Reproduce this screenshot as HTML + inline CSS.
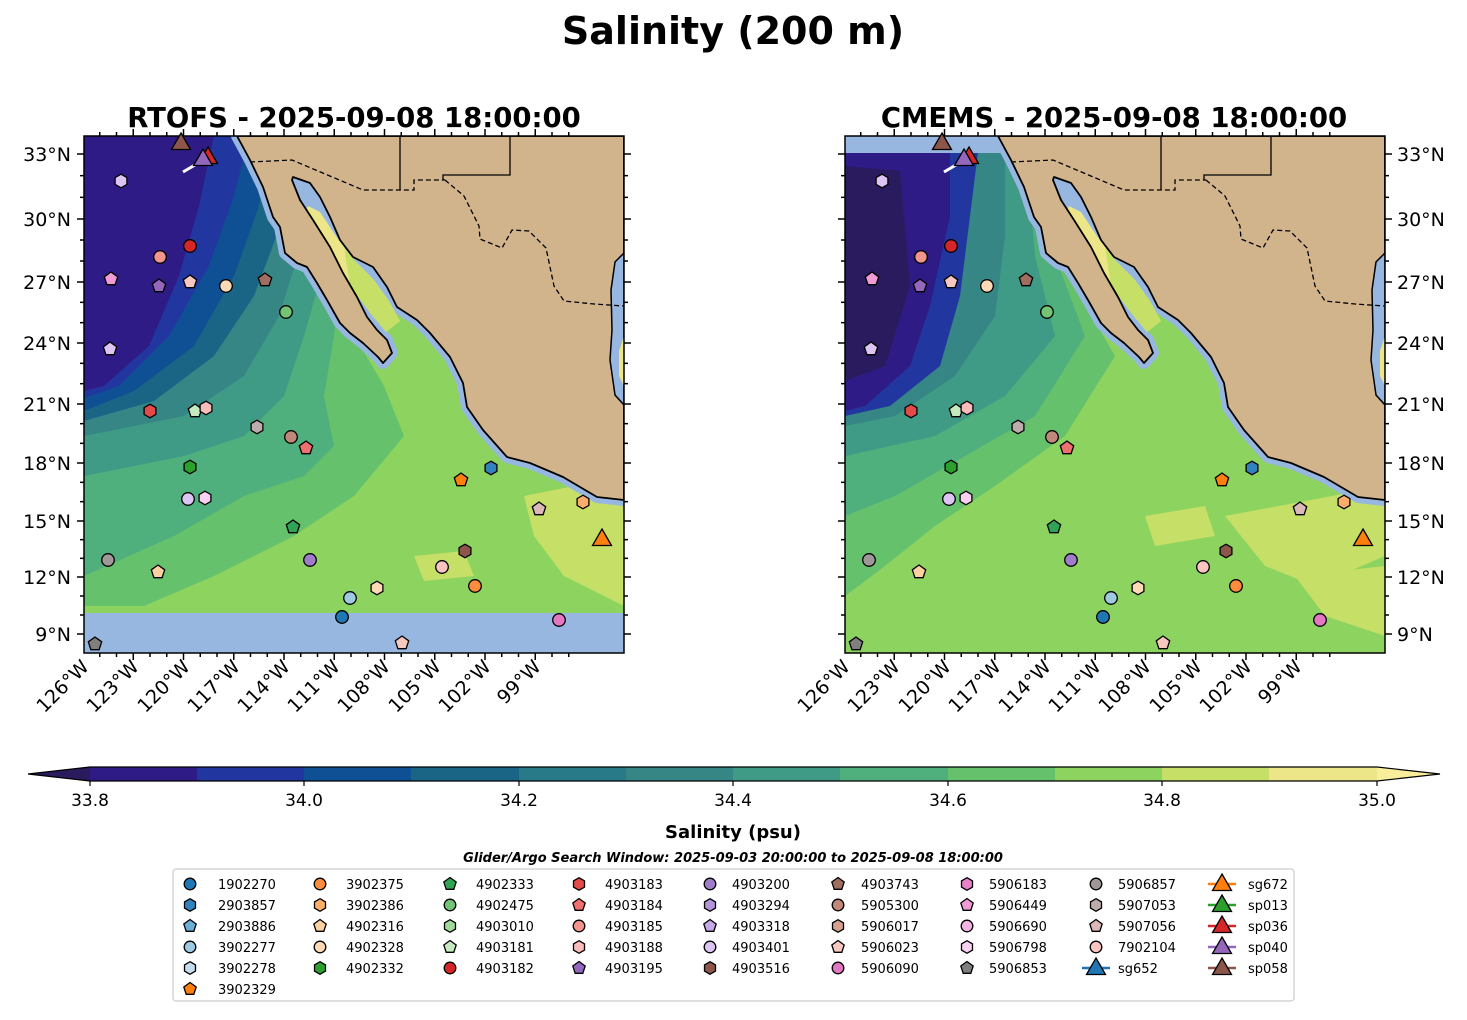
<!DOCTYPE html>
<html><head><meta charset="utf-8"><style>
body{margin:0;background:#fff;}
svg text{font-family:"DejaVu Sans","Liberation Sans",sans-serif;}
</style></head><body>
<svg id="s" width="1467" height="1015" viewBox="0 0 1467 1015" xmlns="http://www.w3.org/2000/svg">
<defs>
<clipPath id="mc"><rect x="0" y="0" width="540" height="517"/></clipPath>
<g id="coast">
<polygon points="153,0 166,24 179,51 189,81 196,91 201,117 213,127 223,131 233,147 243,164 256,187 266,197 279,207 294,221 299,227 308,217 303,204 293,194 283,181 273,161 259,137 246,111 229,84 216,64 208,44 209,41 226,47 236,61 246,81 256,104 269,121 289,131 303,151 313,171 333,184 346,197 366,221 379,247 383,271 399,294 423,321 446,327 479,341 513,361 540,364 540,0" fill="none" stroke="#98b7e0" stroke-width="12" stroke-linejoin="round"/>
<polygon points="209,41 226,47 236,61 246,81 256,104 269,121 289,131 303,151 313,171 300,195 290,180 275,160 260,135 245,110 228,85 215,62" fill="#98b7e0"/>
<polygon points="224,70 236,76 252,100 270,124 290,144 305,165 316,185 302,196 287,178 266,150 246,120 230,95 220,78" fill="#ece689"/>
<polygon points="260,110 270,124 290,144 305,165 316,185 302,196 287,178 266,150" fill="#c5df67"/>
<polygon points="153,0 166,24 179,51 189,81 196,91 201,117 213,127 223,131 233,147 243,164 256,187 266,197 279,207 294,221 299,227 308,217 303,204 293,194 283,181 273,161 259,137 246,111 229,84 216,64 208,44 209,41 226,47 236,61 246,81 256,104 269,121 289,131 303,151 313,171 333,184 346,197 366,221 379,247 383,271 399,294 423,321 446,327 479,341 513,361 540,364 540,0" fill="#d2b48c" stroke="#000" stroke-width="1.8" stroke-linejoin="round"/>
<polygon points="540,117 531,126 527,154 528,194 526,224 531,259 540,269" fill="#98b7e0" stroke="#000" stroke-width="1.5"/>
<polygon points="540,200 535,215 535,240 540,250" fill="#ece689"/>
<polyline points="166,26 208,24 279,54 330,54 330,44 361,44" fill="none" stroke="#000" stroke-width="1.3" stroke-dasharray="5,3"/>
<polyline points="316,0 316,54" fill="none" stroke="#000" stroke-width="1.3"/>
<polyline points="359,44 359,39 426,39 426,0" fill="none" stroke="#000" stroke-width="1.3"/>
<polyline points="361,44 380,60 395,90 396,103 418,112 428,94 445,95 462,112 470,150 480,165 510,168 540,170" fill="none" stroke="#000" stroke-width="1.3" stroke-dasharray="5,3"/>
</g>
</defs>

<text x="733" y="44" font-size="38" font-weight="bold" text-anchor="middle">Salinity (200 m)</text>
<text x="354" y="127" font-size="27.5" font-weight="bold" text-anchor="middle">RTOFS - 2025-09-08 18:00:00</text>
<text x="1114" y="127" font-size="27.5" font-weight="bold" text-anchor="middle">CMEMS - 2025-09-08 18:00:00</text>

<!-- LEFT MAP -->
<g transform="translate(84,136)">
<g clip-path="url(#mc)">
<rect width="540" height="517" fill="#8dd35f"/>
<polygon points="440,360 540,340 540,470 480,440 450,400" fill="#c5df67"/>
<polygon points="330,420 380,415 390,440 340,445" fill="#c5df67"/>
<polygon points="0,0 260,0 265,190 300,250 320,300 270,360 210,400 130,440 60,470 0,470" fill="#66c16d"/>
<polygon points="0,0 245,0 255,150 250,200 240,260 250,310 220,340 160,360 90,400 0,440" fill="#4fb07d"/>
<polygon points="0,0 230,0 240,130 220,200 200,260 160,300 100,320 0,340" fill="#3f9a86"/>
<polygon points="0,0 215,0 220,100 195,180 160,240 100,280 0,300" fill="#358685"/>
<polygon points="0,0 200,0 200,80 170,160 130,220 70,265 0,285" fill="#1a6586"/>
<polygon points="0,0 185,0 175,70 150,140 110,210 50,255 0,275" fill="#0e5093"/>
<polygon points="0,0 165,0 150,60 125,130 85,200 35,250 0,262" fill="#2236a0"/>
<polygon points="0,0 130,0 115,70 95,140 65,210 20,250 0,255" fill="#2f1b85"/>
<rect y="477" width="540" height="40" fill="#98b7e0"/>
<use href="#coast"/>
</g>
<rect width="540" height="517" fill="none" stroke="#000" stroke-width="1.5"/>
</g>

<!-- RIGHT MAP -->
<g transform="translate(845,136)">
<g clip-path="url(#mc)">
<rect width="540" height="517" fill="#8dd35f"/>
<polygon points="380,380 540,350 540,420 470,450 420,430" fill="#c5df67"/>
<polygon points="450,440 540,430 540,500 480,480" fill="#c5df67"/>
<polygon points="300,380 360,370 370,400 310,410" fill="#c5df67"/>
<polygon points="0,0 210,0 230,150 270,220 220,300 150,350 90,390 40,430 0,460" fill="#66c16d"/>
<polygon points="0,0 195,0 210,120 240,200 190,280 120,320 50,360 0,380" fill="#4fb07d"/>
<polygon points="0,0 180,0 190,120 210,200 160,260 90,300 0,320" fill="#3f9a86"/>
<polygon points="0,0 160,0 160,100 150,180 110,240 50,280 0,290" fill="#358685"/>
<polygon points="0,0 135,0 125,80 115,160 95,230 45,270 0,280" fill="#2236a0"/>
<polygon points="0,0 105,0 105,80 85,170 65,230 20,270 0,275" fill="#2f1b85"/>
<polygon points="0,30 55,35 65,150 40,230 0,245" fill="#2a1a5e"/>
<rect width="540" height="17" fill="#98b7e0"/>
<use href="#coast"/>
</g>
<rect width="540" height="517" fill="none" stroke="#000" stroke-width="1.5"/>
</g>

<g id="ticks" stroke="#000" stroke-width="1.5"></g>
<g id="mk"></g>

<!-- lat labels -->
<g font-size="19">
<g text-anchor="end">
<text x="71" y="161">33°N</text><text x="71" y="226">30°N</text><text x="71" y="289">27°N</text><text x="71" y="350">24°N</text><text x="71" y="411">21°N</text><text x="71" y="470">18°N</text><text x="71" y="528">15°N</text><text x="71" y="584">12°N</text><text x="71" y="641">9°N</text>
</g>
<g text-anchor="start">
<text x="1397" y="161">33°N</text><text x="1397" y="226">30°N</text><text x="1397" y="289">27°N</text><text x="1397" y="350">24°N</text><text x="1397" y="411">21°N</text><text x="1397" y="470">18°N</text><text x="1397" y="528">15°N</text><text x="1397" y="584">12°N</text><text x="1397" y="641">9°N</text>
</g>
<g text-anchor="end">
<text transform="translate(90,668) rotate(-45)">126°W</text>
<text transform="translate(140,668) rotate(-45)">123°W</text>
<text transform="translate(191,668) rotate(-45)">120°W</text>
<text transform="translate(241,668) rotate(-45)">117°W</text>
<text transform="translate(291,668) rotate(-45)">114°W</text>
<text transform="translate(341,668) rotate(-45)">111°W</text>
<text transform="translate(391,668) rotate(-45)">108°W</text>
<text transform="translate(442,668) rotate(-45)">105°W</text>
<text transform="translate(492,668) rotate(-45)">102°W</text>
<text transform="translate(542,668) rotate(-45)">99°W</text>
<text transform="translate(851,668) rotate(-45)">126°W</text>
<text transform="translate(901,668) rotate(-45)">123°W</text>
<text transform="translate(952,668) rotate(-45)">120°W</text>
<text transform="translate(1002,668) rotate(-45)">117°W</text>
<text transform="translate(1052,668) rotate(-45)">114°W</text>
<text transform="translate(1102,668) rotate(-45)">111°W</text>
<text transform="translate(1152,668) rotate(-45)">108°W</text>
<text transform="translate(1203,668) rotate(-45)">105°W</text>
<text transform="translate(1253,668) rotate(-45)">102°W</text>
<text transform="translate(1303,668) rotate(-45)">99°W</text>
</g>
</g>

<!-- colorbar -->
<g>
<polygon points="90,767 28,774 90,781" fill="#2a1a5e"/>
<rect x="90" y="767" width="108" height="14" fill="#2f1b85"/>
<rect x="197" y="767" width="108" height="14" fill="#2236a0"/>
<rect x="304" y="767" width="108" height="14" fill="#0e5093"/>
<rect x="411" y="767" width="108" height="14" fill="#1a6586"/>
<rect x="519" y="767" width="108" height="14" fill="#297a88"/>
<rect x="626" y="767" width="108" height="14" fill="#358685"/>
<rect x="733" y="767" width="108" height="14" fill="#3f9a86"/>
<rect x="840" y="767" width="108" height="14" fill="#4fb07d"/>
<rect x="948" y="767" width="108" height="14" fill="#66c16d"/>
<rect x="1055" y="767" width="108" height="14" fill="#8dd35f"/>
<rect x="1162" y="767" width="108" height="14" fill="#c5df67"/>
<rect x="1269" y="767" width="108" height="14" fill="#ece689"/>
<polygon points="1377,767 1440,774 1377,781" fill="#f9ef9b"/>
<polygon points="90,767 28,774 90,781 1377,781 1440,774 1377,767" fill="none" stroke="#000" stroke-width="1.2"/>
<g stroke="#000" stroke-width="1.2"><line x1="90" y1="781" x2="90" y2="786"/><line x1="304" y1="781" x2="304" y2="786"/><line x1="519" y1="781" x2="519" y2="786"/><line x1="733" y1="781" x2="733" y2="786"/><line x1="948" y1="781" x2="948" y2="786"/><line x1="1162" y1="781" x2="1162" y2="786"/><line x1="1377" y1="781" x2="1377" y2="786"/></g>
<g font-size="17" text-anchor="middle">
<text x="90" y="806">33.8</text><text x="304" y="806">34.0</text><text x="519" y="806">34.2</text><text x="733" y="806">34.4</text><text x="948" y="806">34.6</text><text x="1162" y="806">34.8</text><text x="1377" y="806">35.0</text>
</g>
<text x="733" y="838" font-size="18" font-weight="bold" text-anchor="middle">Salinity (psu)</text>
<text x="733" y="862" font-size="13" font-weight="bold" font-style="italic" text-anchor="middle">Glider/Argo Search Window: 2025-09-03 20:00:00 to 2025-09-08 18:00:00</text>
</g>

<!-- legend -->
<rect x="173" y="869" width="1121" height="132" rx="3" fill="#fff" stroke="#ccc" stroke-width="1.2"/>
<g id="lg"></g>
<g font-size="13">
<text x="218" y="889">1902270</text><text x="218" y="910">2903857</text><text x="218" y="931">2903886</text><text x="218" y="952">3902277</text><text x="218" y="973">3902278</text><text x="218" y="994">3902329</text>
<text x="346" y="889">3902375</text><text x="346" y="910">3902386</text><text x="346" y="931">4902316</text><text x="346" y="952">4902328</text><text x="346" y="973">4902332</text>
<text x="476" y="889">4902333</text><text x="476" y="910">4902475</text><text x="476" y="931">4903010</text><text x="476" y="952">4903181</text><text x="476" y="973">4903182</text>
<text x="605" y="889">4903183</text><text x="605" y="910">4903184</text><text x="605" y="931">4903185</text><text x="605" y="952">4903188</text><text x="605" y="973">4903195</text>
<text x="732" y="889">4903200</text><text x="732" y="910">4903294</text><text x="732" y="931">4903318</text><text x="732" y="952">4903401</text><text x="732" y="973">4903516</text>
<text x="861" y="889">4903743</text><text x="861" y="910">5905300</text><text x="861" y="931">5906017</text><text x="861" y="952">5906023</text><text x="861" y="973">5906090</text>
<text x="989" y="889">5906183</text><text x="989" y="910">5906449</text><text x="989" y="931">5906690</text><text x="989" y="952">5906798</text><text x="989" y="973">5906853</text>
<text x="1118" y="889">5906857</text><text x="1118" y="910">5907053</text><text x="1118" y="931">5907056</text><text x="1118" y="952">7902104</text><text x="1118" y="973">sg652</text>
<text x="1248" y="889">sg672</text><text x="1248" y="910">sp013</text><text x="1248" y="931">sp036</text><text x="1248" y="952">sp040</text><text x="1248" y="973">sp058</text>
</g>
</svg>
<script>
var NS="http://www.w3.org/2000/svg";
function el(p,t,a){var e=document.createElementNS(NS,t);for(var k in a)e.setAttribute(k,a[k]);p.appendChild(e);return e;}
function poly(n,r,x,y,rot){var s=[];for(var i=0;i<n;i++){var a=(rot+360*i/n)*Math.PI/180;s.push((x+r*Math.cos(a)).toFixed(1)+","+(y+r*Math.sin(a)).toFixed(1));}return s.join(" ");}
function mark(p,sh,c,x,y,r){
 if(sh=="o")el(p,"circle",{cx:x,cy:y,r:r,fill:c,stroke:"#000","stroke-width":1.3});
 else if(sh=="h")el(p,"polygon",{points:poly(6,r+0.5,x,y,-90),fill:c,stroke:"#000","stroke-width":1.3});
 else if(sh=="p")el(p,"polygon",{points:poly(5,r+0.7,x,y,-90),fill:c,stroke:"#000","stroke-width":1.3});
 else if(sh=="t")el(p,"polygon",{points:poly(3,r+3,x,y+2,-90),fill:c,stroke:"#000","stroke-width":1.3});
}
var T=document.getElementById("ticks");
var lats=[154,219,282,343,404,463,521,577,634];
[84,845].forEach(function(ox){
 for(var d=-1;d<=29;d++){var x=ox-1+d*16.75; if(x<ox-0.5||x>ox+540.5)continue; var maj=d>=0&&(d%3==0);
  var L=maj?7:4; el(T,"line",{x1:x,y1:653,x2:x,y2:653+L}); el(T,"line",{x1:x,y1:136,x2:x,y2:136-L});}
 for(var i=0;i<lats.length;i++){var y=lats[i];
  el(T,"line",{x1:ox,y1:y,x2:ox-7,y2:y});el(T,"line",{x1:ox+540,y1:y,x2:ox+547,y2:y});
  if(i<lats.length-1){for(var k=1;k<3;k++){var yy=y+(lats[i+1]-y)*k/3;el(T,"line",{x1:ox,y1:yy,x2:ox-4,y2:yy});el(T,"line",{x1:ox+540,y1:yy,x2:ox+544,y2:yy});}}
 }
});
var M=[["p","#7f7f7f",95,644],["p","#fdd0a2",158,572],["o","#a09898",108,560],["h","#dcc4f4",121,181],["p","#f09ad6",111,279],["p","#dcc4f4",110,349],
["p","#9467bd",159,286],["o","#f4948e",160,257],["o","#d62728",190,246],["p","#f6c8c0",190,282],["o","#fdd9b5",226,286],["p","#a06e60",265,280],
["o","#74c476",286,312],["h","#e34a4a",150,411],["p","#c7e9c0",195,411],["h","#fbbcbc",206,408],["h","#bcacac",257,427],["o","#c08878",291,437],
["p","#f07070",306,448],["h","#2ca02c",190,467],["o","#dcc4f4",188,499],["h","#fbd0f0",205,498],["p","#31a354",293,527],["o","#a07dc8",310,560],
["o","#9ecae1",350,598],["o","#1f77b4",342,617],["h","#fdd9b5",377,588],["p","#f6c8c0",402,643],["o","#fcc4c0",442,567],["h","#8c564b",465,551],
["o","#fd8d3c",475,586],["p","#ff7f0e",461,480],["h","#3182bd",491,468],["p","#dcb8b8",539,509],["h","#fdae6b",583,502],["o","#e377c2",559,620]];
var G=document.getElementById("mk");
[0,761].forEach(function(o){
 el(G,"polyline",{points:(183+o)+",172 "+(200+o)+",162",stroke:"#fff","stroke-width":3,fill:"none"});
 M.forEach(function(m){mark(G,m[0],m[1],m[2]+o,m[3],6.3);});
 mark(G,"t","#ff7f0e",602+o,538,8);mark(G,"t","#8c564b",181+o,142,8);mark(G,"t","#d62728",208+o,156,8);mark(G,"t","#9467bd",203+o,158,8);
});
var LG=document.getElementById("lg");
var cols=[190,320,450,579,710,838,967,1096,1222];
var rows=[884,905,926,947,968,989];
var L=[[["o","#1f77b4"],["h","#3182bd"],["p","#6baed6"],["o","#9ecae1"],["h","#c6dbef"],["p","#ff7f0e"]],
[["o","#fd8d3c"],["h","#fdae6b"],["p","#fdd0a2"],["o","#fdd9b5"],["h","#2ca02c"]],
[["p","#31a354"],["o","#74c476"],["h","#a1d99b"],["p","#c7e9c0"],["o","#d62728"]],
[["h","#e34a4a"],["p","#f07070"],["o","#f4948e"],["h","#fbbcbc"],["p","#9467bd"]],
[["o","#a07dc8"],["h","#b394d8"],["p","#c6a9e8"],["o","#dcc4f4"],["h","#8c564b"]],
[["p","#a06e60"],["o","#c08878"],["h","#d4a090"],["p","#f6c8c0"],["o","#e377c2"]],
[["h","#e882c8"],["p","#f09ad6"],["o","#f6b4e4"],["h","#fbd0f0"],["p","#7f7f7f"]],
[["o","#a09898"],["h","#bcacac"],["p","#dcb8b8"],["o","#fcc4c0"],["T","#1f77b4"]],
[["T","#ff7f0e"],["T","#2ca02c"],["T","#d62728"],["T","#9467bd"],["T","#8c564b"]]];
L.forEach(function(col,ci){col.forEach(function(m,ri){var x=cols[ci],y=rows[ri];
 if(m[0]=="T"){el(LG,"line",{x1:x-14,y1:y,x2:x+14,y2:y,stroke:m[1],"stroke-width":2.5});mark(LG,"t",m[1],x,y-1,8);}
 else mark(LG,m[0],m[1],x,y,5.8);});});
</script>
</body></html>
